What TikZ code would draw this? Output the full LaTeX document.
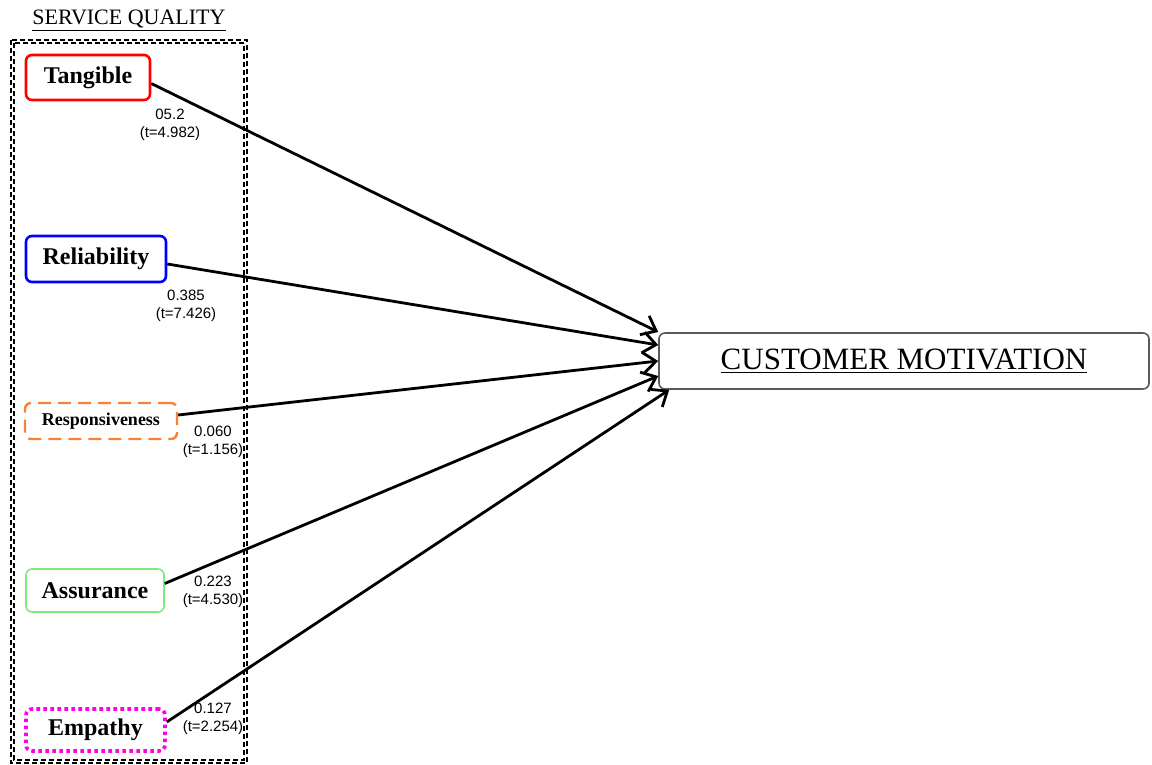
\documentclass[tikz,border=0pt]{standalone}
\usepackage{fontspec}
\setmainfont{Liberation Serif}
\newfontfamily\coeffont{Liberation Sans}
\usetikzlibrary{arrows.meta}

\definecolor{tanred}{RGB}{255,0,0}
\definecolor{relblue}{RGB}{0,0,255}
\definecolor{resorange}{RGB}{245,130,55}
\definecolor{assgreen}{RGB}{125,235,125}
\definecolor{empmagenta}{RGB}{255,0,235}
\definecolor{cmgray}{RGB}{90,90,90}

\begin{document}
\begin{tikzpicture}[x=0.5pt, y=-0.5pt,
    factor/.style={rounded corners=3pt, inner sep=0pt, font=\bfseries\fontsize{12}{14}\selectfont},
    coef/.style={align=center, font=\coeffont\fontsize{7.5}{9}\selectfont},
    frame/.style={line width=0.6pt, dash pattern=on 2.5pt off 1.5pt},
    effect/.style={line width=1.4pt, -{Straight Barb[length=6.5pt, width=10.5pt, line width=1.4pt]}}]

        \useasboundingbox (0,0) rectangle (1152,765);

        % Service quality group with its double dashed frame
        \node[font=\fontsize{11}{13}\selectfont] (sq) at (129,21) {\underline{SERVICE QUALITY}};
        \draw[frame] (11,40) rectangle (247,763);
        \draw[frame] (14,43) rectangle (244,760);

        % The five dimensions
        \node[factor, draw=tanred, line width=1.3pt, minimum width=62pt, minimum height=22.5pt] (tan) at (88,77.5) {Tangible};
        \node[factor, draw=relblue, line width=1.3pt, minimum width=70pt, minimum height=23pt] (rel) at (96,259) {Reliability};
        \node[factor, draw=resorange, line width=1.2pt, dash pattern=on 6.5pt off 3.5pt, minimum width=76pt, minimum height=18pt, font=\bfseries\fontsize{9}{11}\selectfont] (res) at (101,421) {Responsiveness};
        \node[factor, draw=assgreen, line width=0.8pt, minimum width=69pt, minimum height=21.5pt] (ass) at (95,590.5) {Assurance};
        \node[factor, draw=empmagenta, line width=1.8pt, dash pattern=on 1.8pt off 1.7pt, minimum width=69.5pt, minimum height=21pt] (emp) at (95.5,730) {Empathy};

        % Outcome
        \node[draw=cmgray, line width=0.8pt, rounded corners=3pt, minimum width=245pt, minimum height=28pt, font=\fontsize{15.5}{18}\selectfont] (cm) at (904,361) {\underline{CUSTOMER MOTIVATION}};

        % Paths to the outcome
        \draw[effect] ([yshift=-3pt]tan.east) -- ([yshift=14.5pt]cm.west);
        \draw[effect] ([yshift=-2.5pt]rel.east) -- ([yshift=8pt]cm.west);
        \draw[effect] ([yshift=3pt]res.east) -- (cm.west);
        \draw[effect] ([yshift=3.5pt]ass.east) -- ([yshift=-7.5pt]cm.west);
        \draw[effect] ([yshift=4pt]emp.east) -- ([xshift=5.5pt]cm.south west);

        % Coefficients
        \node[coef] (tanc) at (170,124.5) {05.2\\(t=4.982)};
        \node[coef] (relc) at (186,306) {0.385\\(t=7.426)};
        \node[coef] (resc) at (213,442) {0.060\\(t=1.156)};
        \node[coef] (assc) at (213,592) {0.223\\(t=4.530)};
        \node[coef] (empc) at (213,718.5) {0.127\\(t=2.254)};

\end{tikzpicture}
\end{document}
